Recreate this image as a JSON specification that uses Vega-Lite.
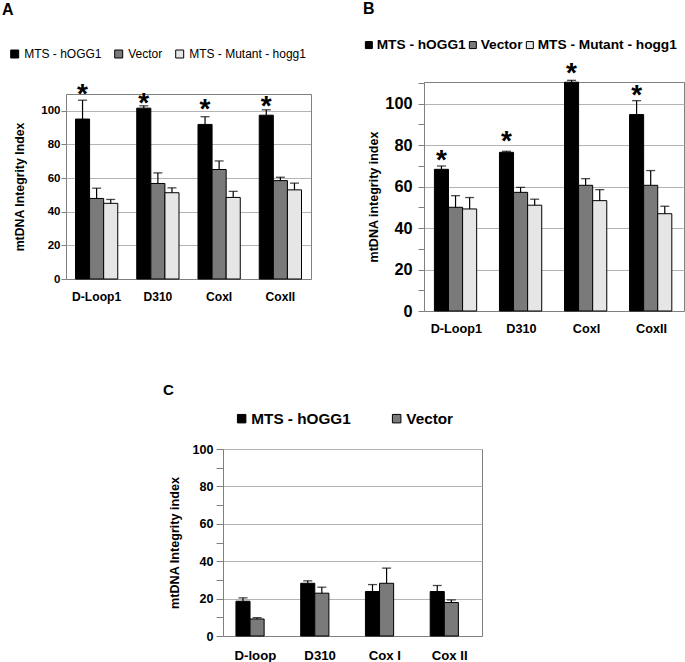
{
  "$schema": "https://vega.github.io/schema/vega-lite/v6.json",
  "padding": {"left": 2, "top": 0, "right": 0, "bottom": 0},
  "background": "white",
  "config": {
    "font": "Liberation Sans",
    "view": {"stroke": "#808080", "strokeWidth": 1},
    "axis": {"domainColor": "#808080", "tickColor": "#808080", "gridColor": "#b4b4b4", "labelColor": "#000000", "titleColor": "#000000", "labelFontWeight": "bold", "titleFontWeight": "bold", "labelFont": "Liberation Sans", "titleFont": "Liberation Sans"},
    "legend": {"labelColor": "#000000", "labelFont": "Liberation Sans"},
    "title": {"color": "#000000", "font": "Liberation Sans"}
  },
  "datasets": {
    "a": [
      {"gene": "D-Loop1", "group": "MTS - hOGG1", "value": 95.1, "err": 106.3, "ast": 111.8},
      {"gene": "D-Loop1", "group": "Vector", "value": 47.9, "err": 54.0},
      {"gene": "D-Loop1", "group": "MTS - Mutant - hogg1", "value": 45.0, "err": 47.3},
      {"gene": "D310", "group": "MTS - hOGG1", "value": 101.6, "err": 103.0, "ast": 106.9},
      {"gene": "D310", "group": "Vector", "value": 56.8, "err": 63.1},
      {"gene": "D310", "group": "MTS - Mutant - hogg1", "value": 51.3, "err": 54.2},
      {"gene": "CoxI", "group": "MTS - hOGG1", "value": 91.9, "err": 96.5, "ast": 103.0},
      {"gene": "CoxI", "group": "Vector", "value": 65.1, "err": 70.2},
      {"gene": "CoxI", "group": "MTS - Mutant - hogg1", "value": 48.5, "err": 52.1},
      {"gene": "CoxII", "group": "MTS - hOGG1", "value": 97.4, "err": 100.6, "ast": 104.9},
      {"gene": "CoxII", "group": "Vector", "value": 58.5, "err": 60.5},
      {"gene": "CoxII", "group": "MTS - Mutant - hogg1", "value": 53.0, "err": 57.0}
    ],
    "b": [
      {"gene": "D-Loop1", "group": "MTS - hOGG1", "value": 68.3, "err": 69.9, "ast": 74.3},
      {"gene": "D-Loop1", "group": "Vector", "value": 50.0, "err": 55.6},
      {"gene": "D-Loop1", "group": "MTS - Mutant - hogg1", "value": 49.2, "err": 54.7},
      {"gene": "D310", "group": "MTS - hOGG1", "value": 76.5, "err": 77.0, "ast": 83.6},
      {"gene": "D310", "group": "Vector", "value": 57.2, "err": 59.6},
      {"gene": "D310", "group": "MTS - Mutant - hogg1", "value": 51.0, "err": 53.9},
      {"gene": "CoxI", "group": "MTS - hOGG1", "value": 110.3, "err": 111.2, "ast": 116.4},
      {"gene": "CoxI", "group": "Vector", "value": 60.6, "err": 63.8},
      {"gene": "CoxI", "group": "MTS - Mutant - hogg1", "value": 53.2, "err": 58.5},
      {"gene": "CoxII", "group": "MTS - hOGG1", "value": 94.7, "err": 101.4, "ast": 105.6},
      {"gene": "CoxII", "group": "Vector", "value": 60.6, "err": 67.7},
      {"gene": "CoxII", "group": "MTS - Mutant - hogg1", "value": 46.9, "err": 50.5}
    ],
    "c": [
      {"gene": "D-loop", "group": "MTS - hOGG1", "value": 18.6, "err": 20.4},
      {"gene": "D-loop", "group": "Vector", "value": 9.1, "err": 9.8},
      {"gene": "D310", "group": "MTS - hOGG1", "value": 28.2, "err": 29.5},
      {"gene": "D310", "group": "Vector", "value": 22.9, "err": 26.1},
      {"gene": "Cox I", "group": "MTS - hOGG1", "value": 23.8, "err": 27.5},
      {"gene": "Cox I", "group": "Vector", "value": 28.2, "err": 36.3},
      {"gene": "Cox II", "group": "MTS - hOGG1", "value": 23.8, "err": 27.0},
      {"gene": "Cox II", "group": "Vector", "value": 17.9, "err": 19.3}
    ],
    "blank": [{"t": ""}]
  },
  "spacing": 46,
  "resolve": {"scale": {"fill": "independent"}, "legend": {"fill": "independent"}},
  "vconcat": [
    {
      "spacing": 50,
      "resolve": {"scale": {"fill": "independent"}, "legend": {"fill": "independent"}},
      "hconcat": [
        {
          "width": 245,
          "height": 197,
          "view": {"stroke": null},
          "title": {"text": "A", "anchor": "start", "frame": "group", "dx": -64, "offset": 17.5, "fontSize": 16, "fontWeight": "bold", "baseline": "alphabetic"},
          "data": {"name": "a"},
          "encoding": {
            "x": {"field": "gene", "type": "nominal", "sort": ["D-Loop1", "D310", "CoxI", "CoxII"], "scale": {"paddingInner": 0.31, "paddingOuter": 0.155}, "axis": {"title": null, "labelAngle": 0, "ticks": false, "tickSize": 0, "labelPadding": 11, "labelFontSize": 12.1}},
            "xOffset": {"field": "group", "type": "nominal", "sort": ["MTS - hOGG1", "Vector", "MTS - Mutant - hogg1"], "scale": {"paddingInner": 0, "paddingOuter": 0}}
          },
          "layer": [
            {
              "mark": {"type": "bar", "stroke": "#000000", "strokeWidth": 1},
              "encoding": {
                "y": {"field": "value", "type": "quantitative", "scale": {"domain": [0, 110], "range": [197, 12], "nice": false}, "axis": {"title": "mtDNA Integrity Index", "titleFontSize": 12.3, "titlePadding": 14, "values": [0, 20, 40, 60, 80, 100, 110], "labelExpr": "datum.value > 100 ? '' : datum.label", "labelFontSize": 11.5, "labelPadding": 1, "tickSize": 5, "grid": true, "tickOpacity": {"condition": {"test": "datum.value > 100", "value": 0}, "value": 1}, "gridColor": {"condition": {"test": "datum.value > 100", "value": "#808080"}, "value": "#b4b4b4"}}},
                "fill": {"field": "group", "type": "nominal", "scale": {"domain": ["MTS - hOGG1", "Vector", "MTS - Mutant - hogg1"], "range": ["#000000", "#7a7a7a", "#e6e6e6"]}, "legend": {"orient": "none", "legendX": -57.3, "legendY": -34, "direction": "horizontal", "title": null, "symbolType": "square", "symbolSize": 64, "symbolStrokeColor": "#000000", "symbolStrokeWidth": 1, "symbolOpacity": 1, "labelFontSize": 12, "labelFontWeight": "normal", "labelOffset": 3.5, "columnPadding": 11}}
              }
            },
            {
              "mark": {"type": "rule", "color": "#000000", "strokeWidth": 1.2},
              "encoding": {"y": {"field": "value", "type": "quantitative", "axis": {"orient": "right", "labels": false, "ticks": false, "grid": false, "title": null, "domainColor": "#808080"}}, "y2": {"field": "err"}}
            },
            {
              "mark": {"type": "tick", "color": "#000000", "size": 9, "thickness": 1.3},
              "encoding": {"y": {"field": "err", "type": "quantitative", "axis": null}}
            },
            {
              "transform": [{"filter": "isValid(datum.ast)"}],
              "mark": {"type": "text", "text": "*", "fontSize": 28, "fontWeight": "bold", "baseline": "alphabetic", "dy": 12.5, "color": "#000000"},
              "encoding": {"y": {"field": "ast", "type": "quantitative", "axis": null}}
            }
          ],
          "resolve": {"axis": {"y": "independent"}}
        },
        {
          "width": 260,
          "height": 229,
          "title": {"text": "B", "anchor": "start", "frame": "group", "dx": -61, "offset": 8.2, "fontSize": 16, "fontWeight": "bold", "baseline": "alphabetic"},
          "data": {"name": "b"},
          "encoding": {
            "x": {"field": "gene", "type": "nominal", "sort": ["D-Loop1", "D310", "CoxI", "CoxII"], "scale": {"paddingInner": 0.323, "paddingOuter": 0.16}, "axis": {"title": null, "labelAngle": 0, "ticks": false, "tickSize": 0, "labelPadding": 11, "labelFontSize": 12.7}},
            "xOffset": {"field": "group", "type": "nominal", "sort": ["MTS - hOGG1", "Vector", "MTS - Mutant - hogg1"], "scale": {"paddingInner": 0, "paddingOuter": 0}}
          },
          "layer": [
            {
              "mark": {"type": "bar", "stroke": "#000000", "strokeWidth": 1},
              "encoding": {
                "y": {"field": "value", "type": "quantitative", "scale": {"domain": [0, 110.4], "nice": false}, "axis": {"title": "mtDNA integrity index", "titleFontSize": 12.5, "titlePadding": 4.5, "values": [0, 10, 20, 30, 40, 50, 60, 70, 80, 90, 100, 110], "labelExpr": "datum.value % 20 === 0 && datum.value <= 100 ? datum.label : ''", "labelFontSize": 16.3, "labelPadding": 6, "tickSize": 6, "grid": true, "gridOpacity": {"condition": {"test": "datum.value % 20 !== 0", "value": 0}, "value": 1}}},
                "fill": {"field": "group", "type": "nominal", "scale": {"domain": ["MTS - hOGG1", "Vector", "MTS - Mutant - hogg1"], "range": ["#000000", "#7a7a7a", "#e6e6e6"]}, "legend": {"orient": "none", "legendX": -62, "legendY": -44, "direction": "horizontal", "title": null, "symbolType": "square", "symbolSize": 49, "symbolStrokeColor": "#000000", "symbolStrokeWidth": 1, "symbolOpacity": 1, "labelFontSize": 13.7, "labelFontWeight": "bold", "labelOffset": 1, "columnPadding": 0}}
              }
            },
            {
              "mark": {"type": "rule", "color": "#000000", "strokeWidth": 1.2},
              "encoding": {"y": {"field": "value", "type": "quantitative", "axis": null}, "y2": {"field": "err"}}
            },
            {
              "mark": {"type": "tick", "color": "#000000", "size": 9, "thickness": 1.3},
              "encoding": {"y": {"field": "err", "type": "quantitative", "axis": null}}
            },
            {
              "transform": [{"filter": "isValid(datum.ast)"}],
              "mark": {"type": "text", "text": "*", "fontSize": 28, "fontWeight": "bold", "baseline": "alphabetic", "dy": 12.5, "color": "#000000"},
              "encoding": {"y": {"field": "ast", "type": "quantitative", "axis": null}}
            }
          ],
          "resolve": {"axis": {"y": "independent"}}
        }
      ]
    },
    {
      "spacing": 0,
      "resolve": {"scale": {"fill": "independent"}, "legend": {"fill": "independent"}},
      "hconcat": [
        {
          "width": 96,
          "height": 1,
          "view": {"stroke": null, "fill": "#ffffff"},
          "data": {"name": "blank"},
          "mark": {"type": "text"},
          "encoding": {"text": {"field": "t", "type": "nominal"}}
        },
        {
          "width": 259,
          "height": 187,
          "title": {"text": "C", "anchor": "start", "frame": "group", "dx": -60, "offset": 1.5, "fontSize": 15, "fontWeight": "bold", "baseline": "alphabetic"},
          "data": {"name": "c"},
          "encoding": {
            "x": {"field": "gene", "type": "nominal", "sort": ["D-loop", "D310", "Cox I", "Cox II"], "scale": {"paddingInner": 0.4, "paddingOuter": 0.2}, "axis": {"title": null, "labelAngle": 0, "ticks": false, "tickSize": 0, "labelPadding": 13, "labelFontSize": 13.2}},
            "xOffset": {"field": "group", "type": "nominal", "sort": ["MTS - hOGG1", "Vector"], "scale": {"paddingInner": 0, "paddingOuter": 0}}
          },
          "layer": [
            {
              "mark": {"type": "bar", "stroke": "#000000", "strokeWidth": 1},
              "encoding": {
                "y": {"field": "value", "type": "quantitative", "scale": {"domain": [0, 100], "nice": false}, "axis": {"title": "mtDNA Integrity index", "titleFontSize": 12.6, "titlePadding": 10, "values": [0, 10, 20, 30, 40, 50, 60, 70, 80, 90, 100], "labelExpr": "datum.value % 20 === 0 ? datum.label : ''", "labelFontSize": 12.6, "labelPadding": 3, "tickSize": 7, "grid": true, "gridOpacity": {"condition": {"test": "datum.value % 20 !== 0", "value": 0}, "value": 1}}},
                "fill": {"field": "group", "type": "nominal", "scale": {"domain": ["MTS - hOGG1", "Vector"], "range": ["#000000", "#7a7a7a"]}, "legend": {"orient": "none", "legendX": 11, "legendY": -38, "direction": "horizontal", "title": null, "symbolType": "square", "symbolSize": 72, "symbolStrokeColor": "#000000", "symbolStrokeWidth": 1, "symbolOpacity": 1, "labelFontSize": 15.3, "labelFontWeight": "bold", "labelOffset": 2, "columnPadding": 38}}
              }
            },
            {
              "mark": {"type": "rule", "color": "#000000", "strokeWidth": 1.2},
              "encoding": {"y": {"field": "value", "type": "quantitative", "axis": null}, "y2": {"field": "err"}}
            },
            {
              "mark": {"type": "tick", "color": "#000000", "size": 9, "thickness": 1.3},
              "encoding": {"y": {"field": "err", "type": "quantitative", "axis": null}}
            }
          ],
          "resolve": {"axis": {"y": "independent"}}
        }
      ]
    }
  ]
}
